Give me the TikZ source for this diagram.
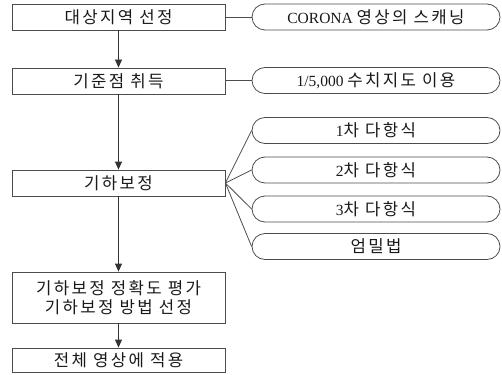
\documentclass[tikz,border=0pt]{standalone}
\usepackage{fontspec}
\setmainfont{Liberation Serif}
\newfontfamily\kr{Noto Sans CJK KR}[Scale=1.08,LetterSpace=14]
\usetikzlibrary{arrows.meta}
\begin{document}
\begin{tikzpicture}[x=1pt,y=-1pt,
  lbox/.style={draw=black!70,line width=0.8pt,rectangle,minimum width=213pt,inner sep=0pt,font=\fontsize{15.5}{18}\selectfont,text=black!90},
  rbox/.style={draw=black!70,line width=0.8pt,rectangle,rounded corners=13pt,minimum width=248pt,minimum height=26pt,inner sep=0pt,font=\fontsize{15.5}{18}\selectfont,text=black!90},
  conn/.style={draw=black!70,line width=0.8pt},
  arr/.style={draw=black!80,line width=0.8pt,-{Triangle[length=8pt,width=7pt]}}
]
\useasboundingbox (0,0) rectangle (502,374);
% left column
\node[lbox,minimum height=26pt] (b1) at (118.5,17) {\kr 대상지역 선정};
\node[lbox,minimum height=26pt] (b2) at (118.5,81) {\kr 기준점 취득};
\node[lbox,minimum height=26pt] (b3) at (118.5,183) {\kr 기하보정};
\node[lbox,minimum height=51pt,align=center] (b4) at (118.5,297.5) {\kr 기하보정 정확도 평가\\[1pt]\kr 기하보정 방법 선정};
\node[lbox,minimum height=24pt] (b5) at (118.5,360) {\kr 전체 영상에 적용};
% right column
\node[rbox] (r1) at (376,17) {CORONA {\kr 영상의 스캐닝}};
\node[rbox] (r2) at (376,80.5) {1/5,000 {\kr 수치지도 이용}};
\node[rbox] (ra) at (376,130.5) {1{\kr 차 다항식}};
\node[rbox] (rb) at (376,170) {2{\kr 차 다항식}};
\node[rbox] (rc) at (376,209) {3{\kr 차 다항식}};
\node[rbox] (rd) at (376,246.5) {\kr 엄밀법};
% connectors
\draw[conn] (b1.east) -- (r1.west);
\draw[conn] (b2.east |- r2.west) -- (r2.west);
\draw[conn] (b3.east) -- (ra.west);
\draw[conn] (b3.east) -- (rb.west);
\draw[conn] (b3.east) -- (rc.west);
\draw[conn] (b3.east) -- (rd.west);
% arrows
\draw[arr] (b1.south) -- (b2.north);
\draw[arr] (b2.south) -- (b3.north);
\draw[arr] (b3.south) -- (b4.north);
\draw[arr] (b4.south) -- (b5.north);
\end{tikzpicture}
\end{document}
